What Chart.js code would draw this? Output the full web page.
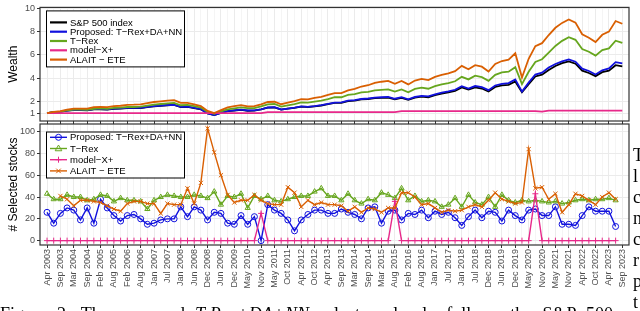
<!DOCTYPE html>
<html>
<head>
<meta charset="utf-8">
<script src="https://cdn.jsdelivr.net/npm/chart.js@4.4.0/dist/chart.umd.min.js"></script>
<style>
  html, body { margin: 0; padding: 0; background: #fff; }
  body { width: 640px; height: 311px; overflow: hidden; position: relative; }
  canvas { position: absolute; left: 0; top: 0; }
  #caption {
    position: absolute; left: 0; top: 305px; white-space: nowrap;
    font-family: "Liberation Serif", "Times New Roman", serif; font-size: 18px;
    line-height: 18px; word-spacing: 5.6px; color: #000;
  }
  #side {
    position: absolute; left: 633px; top: 145px; white-space: nowrap;
    font-family: "Liberation Serif", "Times New Roman", serif; font-size: 18px;
    line-height: 21px; color: #000;
  }
</style>
</head>
<body>
<canvas id="wealth" width="640" height="311"></canvas>
<canvas id="selected" width="640" height="311"></canvas>
<div id="caption">Figure 2: The proposed <i>T-Rex+DA+NN</i> selector closely follows the S&amp;P 500</div>
<div id="side">T<br>l<br>c<br>n<br>c<br>r<br>p<br>t</div>
<script>
// x axis: one point per rebalancing date, a date label every second point
const tickLabels = ["Apr 2003","Sep 2003","Mar 2004","Sep 2004","Feb 2005","Aug 2005","Feb 2006","Aug 2006",
  "Jan 2007","Jul 2007","Jan 2008","Jun 2008","Dec 2008","Jun 2009","Dec 2009","May 2010","Nov 2010",
  "May 2011","Oct 2011","Apr 2012","Oct 2012","Apr 2013","Sep 2013","Mar 2014","Sep 2014","Mar 2015",
  "Aug 2015","Feb 2016","Aug 2016","Jan 2017","Jul 2017","Jan 2018","Jul 2018","Dec 2018","Jun 2019",
  "Dec 2019","May 2020","Nov 2020","May 2021","Nov 2021","Apr 2022","Oct 2022","Apr 2023","Sep 2023"];

// top panel: wealth
const wealthSP500 = [1.00,1.09,1.12,1.22,1.26,1.26,1.24,1.33,1.34,1.31, 1.37,1.39,1.43,1.43,1.44,1.53,1.59,1.64,1.68,1.71,
  1.53,1.54,1.44,1.33,0.99,0.84,1.03,1.17,1.23,1.29, 1.21,1.22,1.33,1.47,1.49,1.31,1.39,1.46,1.56,1.53,
  1.59,1.66,1.77,1.88,1.88,2.04,2.08,2.18,2.21,2.29, 2.31,2.34,2.19,2.32,2.14,2.33,2.42,2.37,2.55,2.68,
  2.78,2.92,3.22,3.02,3.22,3.12,2.86,3.25,3.38,3.43, 3.72,2.80,3.50,4.15,4.30,4.70,5.05,5.30,5.45,5.25,
  4.65,4.45,4.18,4.52,4.65,5.12,5.02];
const wealthProposed = [1.00,1.10,1.13,1.23,1.28,1.28,1.26,1.35,1.36,1.33, 1.40,1.42,1.46,1.45,1.46,1.55,1.61,1.66,1.70,1.72,
  1.55,1.56,1.46,1.35,0.99,0.83,1.03,1.18,1.25,1.31, 1.23,1.24,1.33,1.49,1.51,1.32,1.40,1.48,1.58,1.55,
  1.61,1.69,1.80,1.91,1.92,2.08,2.12,2.22,2.26,2.34, 2.37,2.40,2.24,2.37,2.19,2.39,2.49,2.44,2.62,2.76,
  2.87,3.01,3.32,3.12,3.33,3.24,2.98,3.38,3.52,3.58, 3.90,2.85,3.62,4.32,4.48,4.92,5.22,5.45,5.62,5.42,
  4.82,4.62,4.32,4.68,4.85,5.38,5.28];
const wealthTRex = [1.00,1.10,1.13,1.24,1.30,1.30,1.29,1.38,1.41,1.38, 1.45,1.47,1.53,1.53,1.56,1.65,1.73,1.79,1.85,1.88,
  1.68,1.71,1.60,1.48,1.11,0.94,1.16,1.33,1.41,1.50, 1.43,1.44,1.58,1.75,1.79,1.57,1.68,1.78,1.92,1.90,
  1.99,2.08,2.21,2.37,2.37,2.57,2.64,2.79,2.83,2.95, 3.00,3.04,2.85,3.04,2.80,3.08,3.19,3.10,3.32,3.48,
  3.59,3.74,4.12,3.90,4.22,4.09,3.78,4.29,4.50,4.56, 4.95,3.50,4.55,5.40,5.63,6.20,6.77,7.21,7.52,7.30,
  6.51,6.27,5.94,6.42,6.56,7.22,7.03];
const wealthModelX = [1.00,1.00,1.00,1.00,1.00,1.00,1.00,1.00,1.00,1.00, 1.00,1.00,1.00,1.00,1.00,1.00,1.00,1.00,1.00,1.00,
  1.00,1.00,1.00,1.00,1.00,1.00,1.00,1.00,1.00,1.00, 1.00,1.00,1.00,1.10,1.10,1.10,1.10,1.10,1.10,1.10,
  1.10,1.10,1.10,1.10,1.10,1.10,1.10,1.10,1.10,1.10, 1.10,1.10,1.10,1.17,1.17,1.17,1.17,1.17,1.17,1.17,
  1.17,1.17,1.17,1.17,1.17,1.17,1.17,1.17,1.17,1.17, 1.17,1.17,1.17,1.17,1.13,1.22,1.22,1.22,1.22,1.22,
  1.22,1.22,1.22,1.22,1.22,1.22,1.22];
const wealthALAIT = [1.00,1.11,1.18,1.31,1.39,1.40,1.40,1.52,1.54,1.52, 1.60,1.64,1.72,1.73,1.76,1.87,1.96,2.02,2.08,2.12,
  1.88,1.89,1.76,1.61,1.19,1.01,1.27,1.49,1.60,1.69, 1.59,1.61,1.76,1.96,1.98,1.77,1.90,2.03,2.20,2.19,
  2.31,2.41,2.57,2.73,2.73,2.96,3.08,3.29,3.40,3.60, 3.70,3.77,3.53,3.76,3.47,3.80,3.94,3.84,4.11,4.29,
  4.42,4.61,5.06,4.77,5.12,4.99,4.58,5.23,5.48,5.59, 6.14,4.06,5.67,6.76,7.01,7.71,8.33,8.75,9.05,8.77,
  7.77,7.48,7.11,7.73,8.00,8.91,8.68];

// bottom panel: number of selected stocks
const selProposed = [26,16,25,30,28,19,30,16,38,30, 23,18,23,24,20,15,16,19,20,20, 31,22,31,28,19,26,25,16,15,23,
  15,22,0,33,28,25,19,9,19,24, 28,28,25,25,29,26,24,20,30,31, 16,27,28,19,25,24,28,21,27,24,
  26,21,14,22,28,21,27,26,18,28, 23,19,28,29,23,23,31,15,15,14, 23,31,27,27,27,13];
const selTRex = [43,38,38,42,40,40,37,38,42,41, 36,39,37,37,36,29,37,40,42,41, 40,40,42,41,39,45,33,41,40,43,
  30,41,38,41,37,36,38,40,41,41, 45,48,41,41,37,43,37,34,38,37, 44,42,39,48,37,41,36,37,36,31,
  33,39,31,42,35,33,40,31,42,37, 35,37,36,37,36,35,36,34,35,37, 38,37,38,38,39,37];
const selModelX = [0,0,0,0,0,0,0,0,0,0, 0,0,0,0,0,0,0,0,0,0, 0,0,0,0,0,0,0,0,0,0,
  0,0,25,0,0,0,0,0,0,0, 0,0,0,0,0,0,0,0,0,0, 0,0,36,0,0,0,0,0,0,0,
  0,0,0,0,0,0,0,0,0,0, 0,0,0,43,0,0,0,0,0,0, 0,0,0,0,0,0];
const selALAIT = [null,null,41,38,32,37,37,36,35,32, 29,27,34,36,36,34,34,25,34,33, 33,48,34,53,103,81,60,42,35,37,
  37,42,37,34,33,33,49,44,31,37, 33,35,33,33,32,27,31,26,30,29, 26,30,30,44,44,40,33,34,30,26,
  28,27,28,31,33,31,37,44,38,36, 34,35,84,48,49,38,43,26,33,43, 41,37,33,40,44,38];

const FONT = '"Liberation Sans", Arial, sans-serif';
const GREY_TXT = '#4d4d4d';
const C_SP = '#000000', C_PROP = '#1111dd', C_TREX = '#66a61e', C_MX = '#e7298a', C_AL = '#d95f02';

const pts = arr => arr.map((v, i) => ({ x: i, y: v }));
const xIdx = Array.from({ length: 87 }, (_, i) => i);

function drawMark(ctx, style, x, y, r) {
  ctx.beginPath();
  if (style === 'circle') {
    ctx.arc(x, y, r, 0, Math.PI * 2);
  } else if (style === 'triangle') {
    ctx.moveTo(x, y - r * 1.15);
    ctx.lineTo(x + r * 1.1, y + r * 0.75);
    ctx.lineTo(x - r * 1.1, y + r * 0.75);
    ctx.closePath();
  } else if (style === 'cross') {
    ctx.moveTo(x - r, y); ctx.lineTo(x + r, y);
    ctx.moveTo(x, y - r); ctx.lineTo(x, y + r);
  } else if (style === 'crossRot') {
    const d = r * 0.75;
    ctx.moveTo(x - d, y - d); ctx.lineTo(x + d, y + d);
    ctx.moveTo(x - d, y + d); ctx.lineTo(x + d, y - d);
  }
  ctx.stroke();
}

// panel border and boxed legend inside the panel
const panelBox = {
  id: 'panelBox',
  afterDatasetsDraw(chart, args, o) {
    const { ctx, chartArea: a } = chart;
    ctx.save();
    ctx.strokeStyle = '#333333';
    ctx.lineWidth = 1.2;
    ctx.strokeRect(a.left, a.top, a.right - a.left, a.bottom - a.top);

    const x0 = a.left + o.dx, y0 = a.top + o.dy;
    ctx.fillStyle = '#ffffff';
    ctx.fillRect(x0, y0, o.w, o.h);
    ctx.strokeStyle = '#000000';
    ctx.lineWidth = 1;
    ctx.strokeRect(x0 + 0.5, y0 + 0.5, o.w, o.h);
    ctx.font = '9.5px ' + FONT;
    ctx.textBaseline = 'middle';
    chart.data.datasets.forEach((ds, k) => {
      const y = y0 + o.first + k * o.step;
      ctx.strokeStyle = ds.borderColor;
      ctx.lineWidth = o.lw;
      ctx.beginPath();
      ctx.moveTo(x0 + 4, y);
      ctx.lineTo(x0 + 21, y);
      ctx.stroke();
      if (ds.pointStyle) {
        ctx.lineWidth = 1;
        drawMark(ctx, ds.pointStyle, x0 + 12.5, y, 3);
      }
      ctx.fillStyle = '#000000';
      ctx.fillText(ds.label, x0 + 24, y + 0.5);
    });
    ctx.restore();
  }
};

function xScale(withLabels) {
  return {
    type: 'linear',
    min: -1.05,
    max: 87.0,
    afterBuildTicks: s => { s.ticks = xIdx.map(v => ({ value: v })); },
    afterFit: s => { s.height = withLabels ? 66 : 3; },
    border: { display: false },
    grid: {
      color: c => (c.tick && c.tick.value % 2 === 0) ? '#ebebeb' : '#f3f3f3',
      lineWidth: c => (c.tick && c.tick.value % 2 === 0) ? 1 : 0.8,
      tickLength: 3,
      tickColor: c => (c.tick && c.tick.value % 2 === 0) ? '#333333' : 'rgba(0,0,0,0)',
      tickWidth: 1
    },
    ticks: {
      display: withLabels,
      autoSkip: false,
      minRotation: 90,
      maxRotation: 90,
      padding: 1,
      color: GREY_TXT,
      font: { family: FONT, size: 9 },
      callback: v => (v % 2 === 0 ? tickLabels[v / 2] : '')
    }
  };
}

function yScale(min, max, tickVals, majors, title) {
  return {
    type: 'linear',
    min: min,
    max: max,
    afterBuildTicks: s => { s.ticks = tickVals.map(v => ({ value: v })); },
    afterFit: s => { s.width = 40; },
    border: { display: false },
    grid: {
      color: c => (c.tick && majors.includes(c.tick.value)) ? '#ebebeb' : '#f3f3f3',
      lineWidth: c => (c.tick && majors.includes(c.tick.value)) ? 1 : 0.8,
      tickLength: 3,
      tickColor: c => (c.tick && majors.includes(c.tick.value)) ? '#333333' : 'rgba(0,0,0,0)'
    },
    ticks: {
      padding: 2,
      color: GREY_TXT,
      font: { family: FONT, size: 9 },
      callback: v => (majors.includes(v) ? String(v) : '')
    },
    title: {
      display: true,
      text: title,
      color: '#000000',
      font: { family: FONT, size: 12 },
      padding: { top: 6, bottom: 0 }
    }
  };
}

const common = {
  responsive: false,
  animation: false,
  events: [],
  plugins: { legend: { display: false }, tooltip: { enabled: false } }
};

new Chart(document.getElementById('wealth'), {
  type: 'line',
  data: {
    datasets: [
      { label: 'S&P 500 index', data: pts(wealthSP500), borderColor: C_SP, order: 4 },
      { label: 'Proposed: T\u2212Rex+DA+NN', data: pts(wealthProposed), borderColor: C_PROP, order: 3 },
      { label: 'T\u2212Rex', data: pts(wealthTRex), borderColor: C_TREX, order: 2 },
      { label: 'model\u2212X+', data: pts(wealthModelX), borderColor: C_MX, order: 1 },
      { label: 'ALAIT \u2212 ETE', data: pts(wealthALAIT), borderColor: C_AL, order: 0 }
    ].map(d => Object.assign(d, { borderWidth: 1.8, pointRadius: 0, tension: 0, fill: false }))
  },
  options: Object.assign({}, common, {
    layout: { padding: { top: 3, right: 11, bottom: 187, left: 0 } },
    scales: {
      x: xScale(false),
      y: yScale(0.33, 10.08, [1, 1.5, 2, 3, 4, 5, 6, 7, 8, 9, 10], [1, 2, 4, 6, 8, 10], 'Wealth')
    },
    plugins: Object.assign({}, common.plugins, {
      panelBox: { dx: 6, dy: 3, w: 138, h: 56, first: 12, step: 9.3, lw: 2.2 }
    })
  }),
  plugins: [panelBox]
});

new Chart(document.getElementById('selected'), {
  type: 'line',
  data: {
    datasets: [
      { label: 'Proposed: T\u2212Rex+DA+NN', data: pts(selProposed), borderColor: C_PROP, pointStyle: 'circle', order: 3 },
      { label: 'T\u2212Rex', data: pts(selTRex), borderColor: C_TREX, pointStyle: 'triangle', order: 2 },
      { label: 'model\u2212X+', data: pts(selModelX), borderColor: C_MX, pointStyle: 'cross', order: 1 },
      { label: 'ALAIT \u2212 ETE', data: pts(selALAIT), borderColor: C_AL, pointStyle: 'crossRot', order: 0 }
    ].map(d => Object.assign(d, {
      borderWidth: 1.4, pointRadius: 3, pointBorderWidth: 1, pointBorderColor: d.borderColor,
      pointBackgroundColor: 'rgba(0,0,0,0)', tension: 0, fill: false, spanGaps: false
    }))
  },
  options: Object.assign({}, common, {
    layout: { padding: { top: 124, right: 11, bottom: 0, left: 0 } },
    scales: {
      x: xScale(true),
      y: yScale(-4, 107, [0, 10, 20, 30, 40, 50, 60, 70, 80, 90, 100], [0, 20, 40, 60, 80, 100], '# Selected stocks')
    },
    plugins: Object.assign({}, common.plugins, {
      panelBox: { dx: 6, dy: 7.5, w: 138, h: 46, first: 5.8, step: 11.2, lw: 1.4 }
    })
  }),
  plugins: [panelBox]
});
</script>
</body>
</html>
